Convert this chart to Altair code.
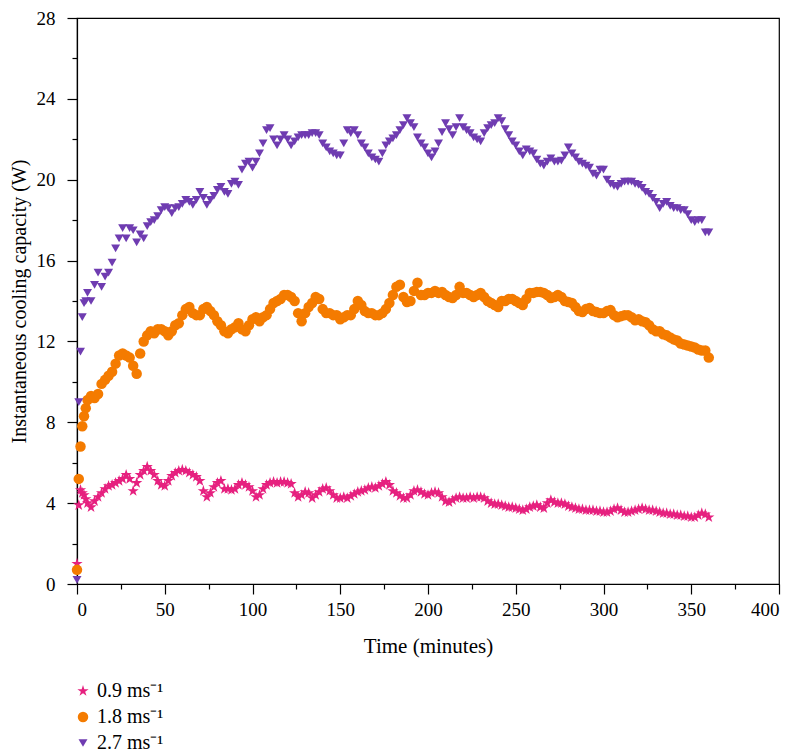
import altair as alt
import pandas as pd

# time points (minutes)
times = list(range(0, 7)) + list(range(8, 361, 2))

# 0.9 m/s series (W)
v09 = [
    1.0, 3.9, 4.65, 4.5, 4.4, 4.2, 4.0,
    3.8, 4.1, 4.3, 4.5, 4.7, 4.85, 4.9, 5.0, 5.1, 5.2,
    5.4, 5.2, 4.6, 5.0, 5.4, 5.6, 5.8, 5.6, 5.4, 5.1,
    4.9, 4.85, 5.1, 5.35, 5.5, 5.6, 5.65, 5.6, 5.5, 5.4,
    5.3, 5.1, 4.6, 4.3, 4.5, 4.8, 5.0, 5.1, 4.7, 4.7,
    4.65, 4.7, 4.9, 5.0, 4.9, 4.8, 4.6, 4.3, 4.4, 4.7,
    4.9, 5.0, 5.05, 5.0, 5.05, 5.05, 5.0, 4.95, 4.5, 4.3,
    4.4, 4.55, 4.5, 4.25, 4.4, 4.55, 4.7, 4.75, 4.6, 4.4,
    4.25, 4.25, 4.3, 4.25, 4.35, 4.45, 4.55, 4.6, 4.65, 4.75,
    4.8, 4.75, 4.85, 4.95, 5.05, 4.9, 4.6, 4.5, 4.35, 4.25,
    4.25, 4.4, 4.6, 4.65, 4.55, 4.45, 4.4, 4.5, 4.55, 4.5,
    4.3, 4.1, 4.05, 4.15, 4.25, 4.3, 4.25, 4.25, 4.3, 4.25,
    4.3, 4.3, 4.25, 4.1, 4.0, 3.95, 3.95, 3.9, 3.85, 3.8,
    3.8, 3.75, 3.7, 3.65, 3.7, 3.8, 3.85, 3.9, 3.8, 3.75,
    4.0, 4.15, 4.05, 4.0, 4.0, 3.95, 3.85, 3.8, 3.75, 3.7,
    3.7, 3.65, 3.65, 3.65, 3.6, 3.6, 3.55, 3.55, 3.6, 3.7,
    3.75, 3.65, 3.55, 3.55, 3.6, 3.65, 3.7, 3.75, 3.7, 3.65,
    3.65, 3.6, 3.55, 3.5, 3.5, 3.45, 3.45, 3.4, 3.4, 3.35,
    3.35, 3.3, 3.3, 3.4, 3.5, 3.45, 3.3,
]

# 1.8 m/s series (W)
v18 = [
    0.7, 5.2, 6.8, 7.8, 8.3, 8.7, 9.1,
    9.3, 9.2, 9.4, 9.9, 10.1, 10.3, 10.5, 10.9, 11.3, 11.4,
    11.3, 11.2, 10.8, 10.4, 11.4, 12.0, 12.3, 12.5, 12.4, 12.6,
    12.6, 12.5, 12.3, 12.5, 12.8, 12.9, 13.3, 13.6, 13.7, 13.4,
    13.3, 13.3, 13.6, 13.7, 13.5, 13.3, 13.0, 12.8, 12.5, 12.4,
    12.6, 12.7, 12.9, 12.6, 12.5, 12.8, 13.1, 13.2, 13.0, 13.2,
    13.3, 13.6, 13.9, 14.0, 14.1, 14.3, 14.3, 14.2, 14.0, 13.4,
    13.0, 13.4, 13.7, 13.9, 14.2, 14.1, 13.6, 13.4, 13.4, 13.3,
    13.3, 13.1, 13.2, 13.3, 13.3, 13.6, 14.0, 13.8, 13.5, 13.4,
    13.4, 13.3, 13.3, 13.4, 13.6, 13.9, 14.3, 14.7, 14.8, 14.2,
    13.95, 14.0, 14.5, 14.9, 14.3, 14.3, 14.4, 14.4, 14.5, 14.4,
    14.45, 14.3, 14.2, 14.15, 14.3, 14.7, 14.4, 14.4, 14.3, 14.2,
    14.3, 14.4, 14.2, 14.0, 13.9, 13.8, 13.7, 14.0, 14.0, 14.1,
    14.1, 14.0, 13.9, 13.8, 14.1, 14.4, 14.4, 14.45, 14.45, 14.4,
    14.3, 14.15, 14.2, 14.3, 14.2, 14.0, 13.95, 13.9, 13.7, 13.5,
    13.45, 13.6, 13.65, 13.5, 13.45, 13.4, 13.4, 13.5, 13.55, 13.3,
    13.2, 13.25, 13.3, 13.3, 13.2, 13.05, 13.1, 13.0, 12.95, 12.8,
    12.6, 12.5, 12.5, 12.35, 12.3, 12.2, 12.1, 12.05, 11.9, 11.85,
    11.8, 11.75, 11.7, 11.6, 11.55, 11.55, 11.2,
]

# 2.7 m/s series (W)
v27 = [
    0.2, 9.0, 11.5, 13.2, 13.9, 14.0, 14.4,
    14.0, 14.8, 15.4, 14.7, 15.2, 15.4, 15.9, 16.6, 17.1, 17.6,
    17.1, 17.6, 17.5, 16.9, 17.3, 17.1, 17.7, 17.9, 18.0, 18.2,
    18.5, 18.65, 18.6, 18.35, 18.6, 18.65, 18.8, 19.0, 18.9, 18.75,
    19.0, 19.4, 19.1, 18.75, 19.0, 19.2, 19.5, 19.65, 19.4, 19.3,
    19.8, 19.9, 19.75, 20.5, 20.8, 20.9, 20.6, 20.9, 21.3, 21.8,
    22.45, 22.55, 22.0, 21.7, 22.0, 22.2, 22.0, 21.7, 21.9, 22.1,
    22.2, 22.2, 22.2, 22.3, 22.3, 22.2, 21.8, 21.6, 21.4, 21.3,
    21.2, 21.2, 21.8, 22.45, 22.3, 22.45, 22.2, 21.8, 21.6, 21.3,
    21.1, 21.0, 20.9, 21.3, 21.7, 21.9, 22.05, 22.2, 22.45, 22.7,
    23.05, 22.8, 22.6, 22.1, 21.8, 21.6, 21.3, 21.1, 21.4, 21.8,
    22.35, 22.8, 22.5, 22.2, 22.6, 23.05, 22.6, 22.45, 22.3, 22.1,
    22.0, 21.9, 22.3, 22.55, 22.7, 22.8, 23.05, 22.9, 22.5, 22.2,
    21.9, 21.7, 21.4, 21.2, 21.5, 21.4, 21.3, 21.0, 20.8, 20.7,
    20.9, 21.05, 20.9, 20.9, 20.95, 21.2, 21.6, 21.3, 21.1, 20.9,
    20.8, 20.7, 20.6, 20.3, 20.2, 20.5, 20.5, 20.0, 19.8, 19.7,
    19.65, 19.8, 19.9, 19.9, 19.9, 19.8, 19.75, 19.6, 19.4, 19.3,
    19.1, 18.9, 18.6, 18.8, 18.9, 18.7, 18.6, 18.6, 18.5, 18.5,
    18.3, 18.0, 17.9, 18.0, 18.0, 17.4, 17.4,
]

labels = ["0.9 ms\u207b\u00b9", "1.8 ms\u207b\u00b9", "2.7 ms\u207b\u00b9"]
colors = ["#E6207F", "#F47B00", "#6F3CB1"]
star = ("M0,-1L0.2245,-0.309L0.9511,-0.309L0.3633,0.118L0.5878,0.809"
        "L0,0.382L-0.5878,0.809L-0.3633,0.118L-0.9511,-0.309L-0.2245,-0.309Z")
shapes = [star, "circle", "triangle-down"]

rows = []
for lab, vals in zip(labels, [v09, v18, v27]):
    assert len(vals) == len(times), (lab, len(vals), len(times))
    for t, v in zip(times, vals):
        rows.append({"t": t, "v": v, "speed": lab})
df = pd.DataFrame(rows)

FONT = "Liberation Serif"

chart = alt.Chart(df).mark_point(filled=True, opacity=1, strokeWidth=0).encode(
    x=alt.X("t:Q", title="Time (minutes)",
            scale=alt.Scale(domain=[0, 400], nice=False, zero=False),
            axis=alt.Axis(values=list(range(0, 401, 25)),
                          labelExpr="datum.value % 50 === 0 ? datum.label : ''",
                          tickSize={"condition": {"test": "datum.value % 50 === 0", "value": 10}, "value": 5},
                          labelPadding=6, titlePadding=16, titleFontSize=21, grid=False)),
    y=alt.Y("v:Q", title="Instantaneous cooling capacity (W)",
            scale=alt.Scale(domain=[0, 28], nice=False, zero=False),
            axis=alt.Axis(values=list(range(0, 29, 2)),
                          labelExpr="datum.value % 4 === 0 ? datum.label : ''",
                          tickSize={"condition": {"test": "datum.value % 4 === 0", "value": 10}, "value": 5},
                          labelPadding=12, titlePadding=7, titleFontSize=20, grid=False)),
    color=alt.Color("speed:N", scale=alt.Scale(domain=labels, range=colors),
                    legend=alt.Legend(title=None, orient="none", legendX=-4, legendY=663,
                                      labelFontSize=20, labelFont=FONT, labelColor="black",
                                      rowPadding=6, symbolSize=100, labelOffset=4)),
    shape=alt.Shape("speed:N", scale=alt.Scale(domain=labels, range=shapes)),
    size=alt.Size("speed:N", scale=alt.Scale(domain=labels, range=[140, 80, 130]), legend=None),
).properties(
    width=702, height=566,
    background="white",
    autosize=alt.AutoSizeParams(type="none"),
    padding={"left": 69, "top": 10, "right": 9, "bottom": 168},
).configure_view(
    stroke="black", strokeWidth=1.2
).configure_axis(
    domainColor="black", domainWidth=1.2, tickColor="black", tickWidth=1.2,
    labelFont=FONT, titleFont=FONT, labelFontSize=19,
    labelColor="black", titleColor="black", titleFontWeight="normal",
)

chart.save("out.html", embed_options={"renderer": "svg", "actions": False})
